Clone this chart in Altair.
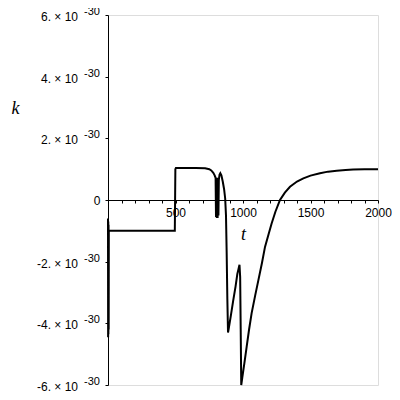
import altair as alt
import pandas as pd

# curve k(t), k in units of 1e-30
t_vals = [0, 1, 2, 3, 4, 5, 6, 8, 12,
          495, 499, 503, 520, 650, 720, 750, 765, 780, 790, 797,
          800, 803, 806, 809, 812, 815, 818, 821,
          826, 832, 840, 850, 860, 868, 874, 879, 884, 889,
          893, 910, 928, 945, 958, 966, 974, 979, 983, 987,
          995, 1010, 1027, 1045, 1064, 1090, 1114, 1140, 1163, 1190, 1212,
          1240, 1274, 1310, 1348, 1400, 1447, 1500, 1570, 1630, 1694,
          1760, 1816, 1900, 2000]
k_vals = [-0.6, -4.45, -0.7, -4.35, -0.8, -4.2, -1.0, -1.0, -1.0,
          -1.0, 1.0, 1.04, 1.04, 1.04, 1.03, 1.0, 0.96, 0.88, 0.8, 0.72,
          -0.55, 0.72, -0.58, 0.72, -0.58, 0.7, -0.5, 0.65,
          0.82, 0.87, 0.8, 0.6, 0.35, 0.05, -0.5, -1.7, -3.2, -4.3,
          -4.2, -3.75, -3.25, -2.8, -2.4, -2.25, -2.1, -2.5, -4.2, -6.0,
          -5.75, -5.3, -4.76, -4.2, -3.67, -3.1, -2.6, -2.05, -1.52, -1.1, -0.76,
          -0.38, 0.0, 0.24, 0.43, 0.6, 0.70, 0.79, 0.87, 0.92, 0.95,
          0.97, 0.99, 1.0, 1.0]

ytick_vals = [-6, -5, -4, -3, -2, -1, 0, 1, 2, 3, 4, 5, 6]
ylabel_vals = [6, 4, 2, -2, -4, -6]
ylabel_main = ["6. \u00d7 10", "4. \u00d7 10", "2. \u00d7 10",
               "-2. \u00d7 10", "-4. \u00d7 10", "-6. \u00d7 10"]
ylabel_exp = ["-30", "-30", "-30", "-30", "-30", "-30"]
xtick_vals = list(range(0, 2001, 100))

curve = pd.DataFrame({"t": t_vals, "k": k_vals})
labels = pd.DataFrame({"v": ylabel_vals, "main": ylabel_main, "exp": ylabel_exp})

FONT = "Liberation Sans"
xscale = alt.Scale(domain=[0, 2000], nice=False, zero=False)
yscale = alt.Scale(domain=[-6, 6], nice=False)

line = alt.Chart(curve).mark_line(color="black", strokeWidth=2).encode(
    x=alt.X("t:Q", scale=xscale, axis=alt.Axis(
        values=xtick_vals, offset=-185, tickSize=3, format="d",
        labelExpr="datum.value > 0 && datum.value % 500 == 0 ? datum.label : ''",
        labelPadding=4, labelFont=FONT, labelFontSize=12, labelColor="black",
        labelOverlap=False, labelFlush=False,
        domainColor="black", tickColor="black", grid=False,
        title="t", titleX=135, titleY=34, titleAngle=0,
        titleAlign="center", titleBaseline="middle",
        titleFont="Liberation Serif", titleFontStyle="italic",
        titleFontWeight="normal", titleFontSize=18, titleColor="black")),
    y=alt.Y("k:Q", scale=yscale, axis=alt.Axis(
        values=ytick_vals, tickSize=3,
        labelExpr="datum.value == 0 ? '0' : ''",
        labelPadding=5, labelFont=FONT, labelFontSize=12, labelColor="black",
        labelOverlap=False, labelFlush=False,
        domainColor="black", tickColor="black", grid=False,
        title="k", titleX=-93, titleY=93, titleAngle=0,
        titleAlign="center", titleBaseline="middle",
        titleFont="Liberation Serif", titleFontStyle="italic",
        titleFontWeight="normal", titleFontSize=18, titleColor="black")),
)

main_txt = alt.Chart(labels).mark_text(
    align="right", baseline="middle", dy=2, font=FONT, fontSize=12, color="black"
).encode(x=alt.value(-30), y=alt.Y("v:Q", scale=yscale), text="main:N")

exp_txt = alt.Chart(labels).mark_text(
    align="right", baseline="middle", dy=-3, font=FONT, fontSize=11, color="black"
).encode(x=alt.value(-8), y=alt.Y("v:Q", scale=yscale), text="exp:N")

chart = alt.layer(line, main_txt, exp_txt).properties(
    width=270, height=370,
    autosize=alt.AutoSizeParams(type="none"),
    padding={"left": 100, "top": 7, "right": 14, "bottom": 7},
).configure_view(stroke=None).configure(background="white")

chart.save("out.html", embed_options={"renderer": "svg", "actions": False})
